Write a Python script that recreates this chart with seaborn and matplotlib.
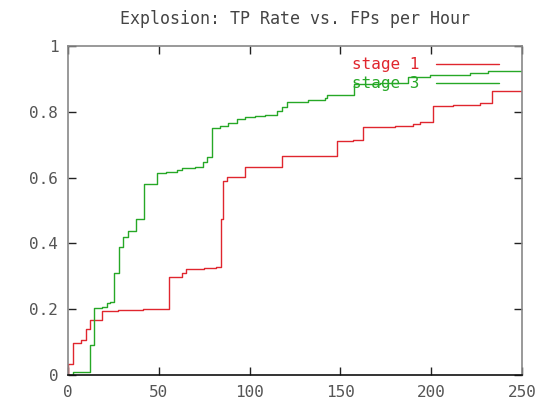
import numpy as np
import pandas as pd
import matplotlib
matplotlib.use("Agg")
import matplotlib.pyplot as plt
import seaborn as sns
from matplotlib.lines import Line2D

title = "Explosion: TP Rate vs. FPs per Hour"
series_names = ["stage 1", "stage 3"]

stage1_x = [0, 0, 2.6, 7.2, 9.7, 12.1, 18.9, 27.5, 41.5, 55.8, 62.9, 64.8, 75, 81.5, 84.1, 85.5,
            87.4, 97.5, 118, 148, 157, 162.3, 180, 189.8, 193.8, 201.2, 212, 226.9, 233.7, 250]
stage1_y = [0, 0.033, 0.098, 0.106, 0.14, 0.167, 0.195, 0.197, 0.200, 0.297, 0.311, 0.323, 0.325,
            0.328, 0.474, 0.591, 0.601, 0.631, 0.667, 0.711, 0.715, 0.755, 0.758, 0.762, 0.768,
            0.818, 0.821, 0.826, 0.864, 0.864]

stage3_x = [0, 2.6, 12.1, 14.5, 18.5, 21.3, 23.4, 25.5, 28.1, 30.5, 32.9, 37.4, 42.0, 48.8, 54,
            59.8, 63, 69.9, 74.5, 76.3, 79.1, 83.7, 88.3, 92.9, 97.5, 103, 108.5, 115, 118, 120.8,
            132.3, 141.5, 142.5, 157.5, 172, 187.4, 199.3, 221.4, 231.4, 250]
stage3_y = [0, 0.008, 0.091, 0.203, 0.208, 0.218, 0.222, 0.309, 0.39, 0.419, 0.438, 0.474, 0.581,
            0.613, 0.618, 0.623, 0.628, 0.633, 0.648, 0.662, 0.75, 0.757, 0.767, 0.777, 0.784,
            0.788, 0.791, 0.801, 0.816, 0.831, 0.836, 0.841, 0.851, 0.884, 0.888, 0.907, 0.912,
            0.917, 0.924, 0.924]

x_ticks = [0, 50, 100, 150, 200, 250]
x_ticklabels = ["0", "50", "100", "150", "200", "250"]
y_ticks = [0, 0.2, 0.4, 0.6, 0.8, 1]
y_ticklabels = ["0", "0.2", "0.4", "0.6", "0.8", "1"]

colors = {"stage 1": "#e0262e", "stage 3": "#26a826"}

df = pd.concat([
    pd.DataFrame({"fp": stage1_x, "tp": stage1_y, "stage": series_names[0]}),
    pd.DataFrame({"fp": stage3_x, "tp": stage3_y, "stage": series_names[1]}),
], ignore_index=True)

sns.set_style("white")
plt.rcParams["font.family"] = ["DejaVu Sans Mono", "DejaVu Sans"]

fig = plt.figure(figsize=(5.43, 4.01), dpi=100)
ax = fig.add_axes([68 / 543, 26 / 401, 454 / 543, 329 / 401])

sns.lineplot(data=df, x="fp", y="tp", hue="stage", palette=colors, drawstyle="steps-post",
             estimator=None, sort=False, units="stage", linewidth=1.0, ax=ax, legend=False)

ax.set_xlim(0, 250)
ax.set_ylim(0, 1)
ax.set_xticks(x_ticks)
ax.set_xticklabels(x_ticklabels)
ax.set_yticks(y_ticks)
ax.set_yticklabels(y_ticklabels)
ax.set_xlabel("")
ax.set_ylabel("")
ax.tick_params(direction="in", length=6, width=1, color="#222222", labelsize=11.5,
               labelcolor="#555555", top=True, right=True, bottom=True, left=True, pad=7)
for side in ["left", "right", "top"]:
    ax.spines[side].set_color("#888888")
    ax.spines[side].set_linewidth(1.2)
ax.spines["bottom"].set_color("#111111")
ax.spines["bottom"].set_linewidth(1.2)

ax.set_title(title, fontsize=12, color="#444444", pad=16)

handles = [Line2D([], [], color=colors[n], lw=1.0) for n in series_names]
leg = ax.legend(handles, series_names, loc="upper right", markerfirst=False, frameon=False,
                fontsize=11.5, handlelength=4.0, handletextpad=1.0, labelspacing=0.25,
                bbox_to_anchor=(0.975, 1.0), borderaxespad=0.3)
for t, n in zip(leg.get_texts(), series_names):
    t.set_color(colors[n])

fig.savefig("out.png", dpi=100)
